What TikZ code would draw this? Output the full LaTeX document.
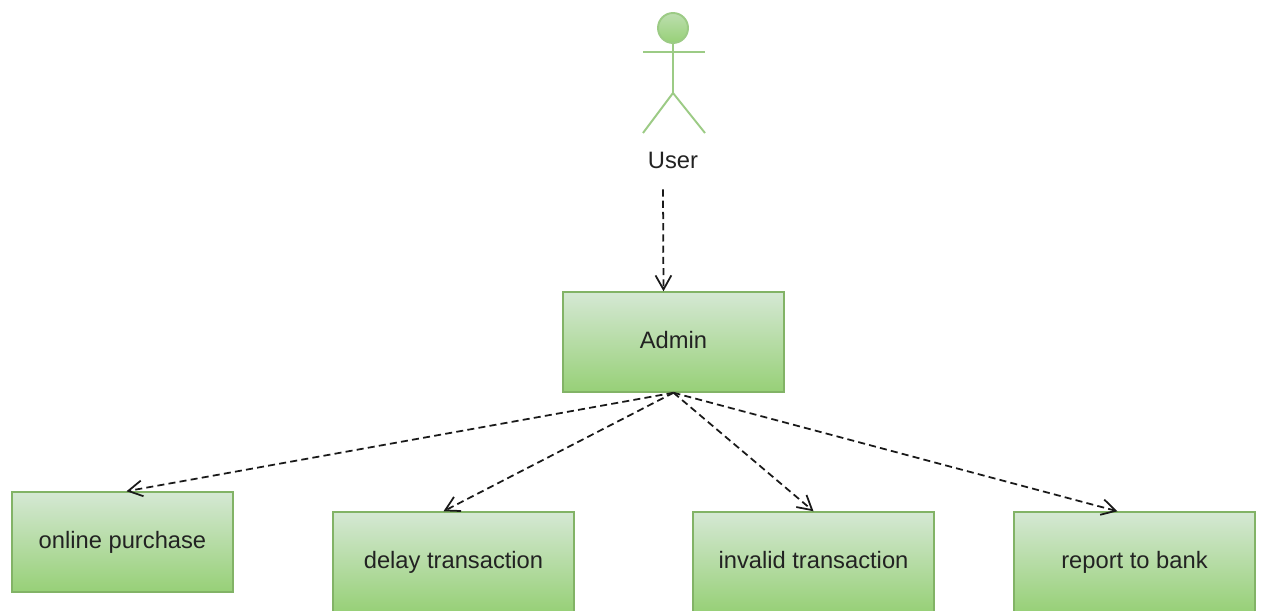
\documentclass[tikz,border=0pt]{standalone}
\usepackage{fontspec}
\setmainfont{Liberation Sans}
\usepackage{xcolor}
\definecolor{gfill}{HTML}{D5E8D4}
\definecolor{gdark}{HTML}{97D077}
\definecolor{gline}{HTML}{82B366}
\definecolor{actline}{HTML}{9CCB85}
\definecolor{txt}{HTML}{222222}
\usetikzlibrary{arrows.meta}
\tikzset{usecase/.style={draw=gline,line width=0.85pt,top color=gfill,bottom color=gdark,
  minimum height=2cm,text=txt,font=\fontsize{13.5}{16}\selectfont,text height=1.5ex,text depth=0.1ex},
  dep/.style={draw=black!90,line width=1pt,dash pattern=on 4pt off 2.4pt,
  -{Straight Barb[length=8pt,width=9pt,line width=1pt]}}}

\begin{document}
\begin{tikzpicture}
\clip (0,0) rectangle (25.22,12.2);
\fill[white] (0,0) rectangle (25.22,12.2);
% actor
\draw[actline,line width=1.1pt,top color=gfill!60!gdark,bottom color=gdark] (13.46,11.64) circle (0.3);
\draw[actline,line width=1.1pt] (13.46,11.34) -- (13.46,10.34);
\draw[actline,line width=1.1pt] (12.86,11.16) -- (14.10,11.16);
\draw[actline,line width=1.1pt] (12.86,9.54) -- (13.46,10.34) -- (14.10,9.54);
\node[text=txt,font=\fontsize{13.5}{16}\selectfont] (user) at (13.46,9.0) {User};
% boxes
\node[usecase,minimum width=4.42cm] (admin) at (13.47,5.36) {Admin};
\node[usecase,minimum width=4.42cm] (online) at (2.45,1.36) {online purchase};
\node[usecase,minimum width=4.82cm] (delay) at (9.07,0.96) {delay transaction};
\node[usecase,minimum width=4.82cm] (invalid) at (16.27,0.96) {invalid transaction};
\node[usecase,minimum width=4.82cm] (report) at (22.69,0.96) {report to bank};
% links
\draw[dep] ([xshift=-0.2cm,yshift=-0.3cm]user.south) -- ([xshift=-0.2cm]admin.north);
\draw[dep] (admin.south) -- ([xshift=0.08cm]online.north);
\draw[dep] (admin.south) -- ([xshift=-0.2cm]delay.north);
\draw[dep] (admin.south) -- (invalid.north);
\draw[dep] (admin.south) -- ([xshift=-0.34cm]report.north);
\end{tikzpicture}
\end{document}
